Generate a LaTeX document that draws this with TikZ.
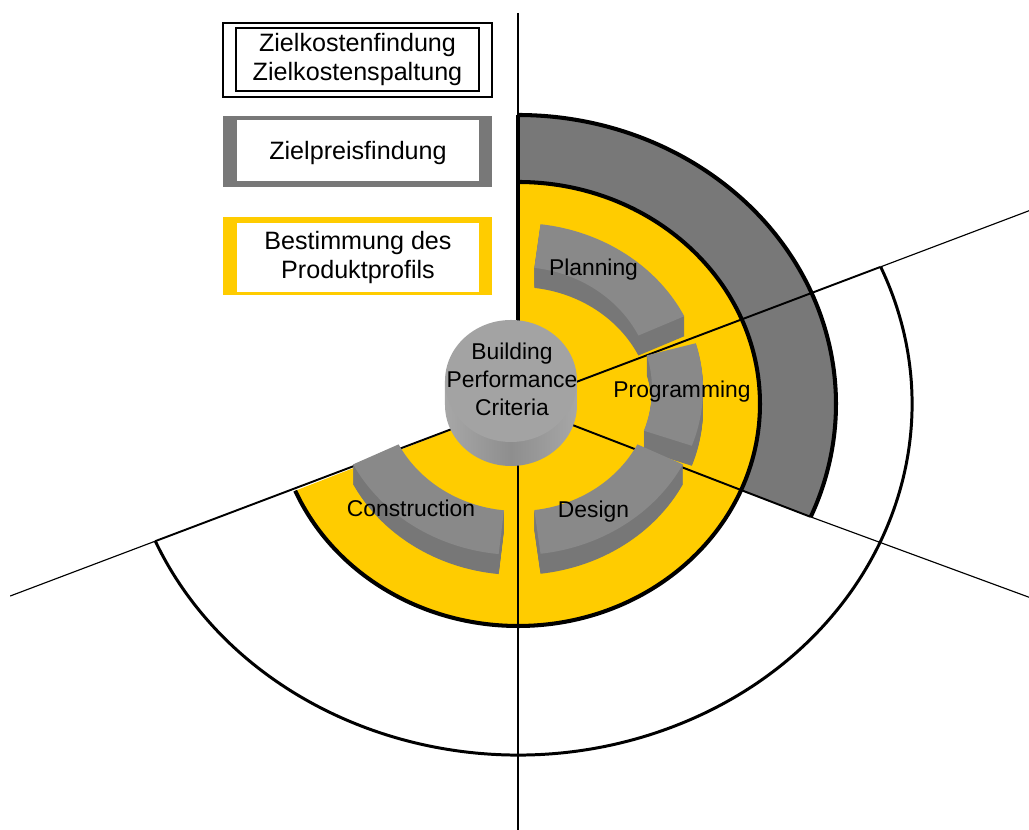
\documentclass[tikz,border=0pt]{standalone}
\usepackage{fontspec}
\setmainfont{Liberation Sans}
\usepackage{tikz}
\usetikzlibrary{calc}

\definecolor{ringgray}{HTML}{787878}
\definecolor{profilyellow}{HTML}{FFCC00}
\definecolor{barface}{HTML}{898989}
\definecolor{barside}{HTML}{777777}
\definecolor{cyltop}{HTML}{A3A3A3}
\definecolor{cyledge}{HTML}{C0C0C0}
\definecolor{cylmid}{HTML}{8E8E8E}

\pgfdeclarehorizontalshading{cylside}{100bp}{color(0bp)=(cyledge); color(50bp)=(cylmid); color(100bp)=(cyledge)}

\newcommand{\lblfont}{\fontsize{13}{15.9}\selectfont}
\newcommand{\legfont}{\fontsize{14.3}{16.6}\selectfont}

\newcommand{\segbar}[2]{%
  \foreach \h in {20,19,...,1}{%
    \fill[barside, yshift=-\h*0.02cm] (#1:185 and 166) arc[start angle=#1, end angle=#2, x radius=185, y radius=166]
      -- (#2:134 and 122) arc[start angle=#2, end angle=#1, x radius=134, y radius=122] -- cycle;
  }
  \fill[barface] (#1:185 and 166) arc[start angle=#1, end angle=#2, x radius=185, y radius=166]
    -- (#2:134 and 122) arc[start angle=#2, end angle=#1, x radius=134, y radius=122] -- cycle;
}

\begin{document}
\begin{tikzpicture}[x=0.02cm, y=0.02cm,
    thinline/.style={line width=0.65pt},
    midline/.style={line width=1.1pt},
    ringline/.style={line width=2.3pt},
    outerarc/.style={line width=1.7pt},
    lbl/.style={font=\lblfont, inner sep=0pt, anchor=base},
    legouter/.style={minimum width=5.38cm, inner sep=0pt, outer sep=0pt},
    leginner/.style={minimum width=4.84cm, inner sep=0pt, outer sep=0pt, fill=white, font=\legfont, align=center}]

    \useasboundingbox (-518,-426) rectangle (511,404);

    \coordinate (O) at (0,0);
    \coordinate (vTop) at (0,391);
    \coordinate (vBot) at (0,-426);
    \coordinate (gTop) at (90:318 and 289);
    \coordinate (yTop) at (90:242 and 222);
    \coordinate (gLR) at (-23:318 and 289);
    \coordinate (wUR) at (23:394 and 351);
    \coordinate (wLR) at (-23:394 and 351);
    \coordinate (wLL) at (203:394 and 351);
    \coordinate (eUR) at ($(O)!1.41!(wUR)$);
    \coordinate (eLR) at ($(O)!1.41!(wLR)$);
    \coordinate (eLL) at ($(O)!1.40!(wLL)$);

    \fill[ringgray] (gTop) arc[start angle=90, end angle=-23, x radius=318, y radius=289]
      -- (-23:242 and 222) arc[start angle=-23, end angle=90, x radius=242, y radius=222] -- cycle;

    \fill[profilyellow] (O) -- (-157:242 and 222) arc[start angle=-157, end angle=90, x radius=242, y radius=222] -- cycle;

    \draw[thinline] (vTop) -- (vBot);
    \draw[thinline] (wUR) -- (eUR);
    \draw[thinline] (gLR) -- (eLR);
    \draw[thinline] (wLL) -- (eLL);
    \draw[midline] (O) -- (wUR);
    \draw[midline] (O) -- (gLR);
    \draw[midline] (O) -- (wLL);

    \draw[ringline] (gTop) -- (O);
    \draw[ringline] (gTop) arc[start angle=90, end angle=-23, x radius=318, y radius=289];
    \draw[ringline] (yTop) arc[start angle=90, end angle=-157, x radius=242, y radius=222];
    \draw[outerarc] (wUR) arc[start angle=23, end angle=-157, x radius=394, y radius=351];

    \begin{scope}[shift={(0,15)}]
      \segbar{26}{83}
      \segbar{-20}{16}
      \segbar{-83}{-27}
      \segbar{207}{264}
    \end{scope}

    \shade[shading=cylside] (-73,23) -- (-73,-1) arc[start angle=180, end angle=360, x radius=66, y radius=61] -- (59,23) -- cycle;
    \fill[cyltop] (-7,23) ellipse [x radius=66, y radius=61];

    \node[lbl, anchor=center, align=center] (criteria) at (-6,25) {Building\\Performance\\Criteria};
    \node[lbl] (planning) at (75.5,128) {Planning};
    \node[lbl] (programming) at (164,6) {Programming};
    \node[lbl] (design) at (75.5,-114) {Design};
    \node[lbl] (construction) at (-107,-113) {Construction};

    \node[legouter, draw, line width=0.7pt, minimum height=1.48cm] (kostenrand) at (-160.5,344) {};
    \node[leginner, draw, line width=0.7pt, minimum width=4.86cm, minimum height=1.26cm] (kosten) at (-160.5,344.5) {Zielkostenfindung\\Zielkostenspaltung};

    \node[legouter, fill=ringgray, minimum height=1.42cm] (preisrand) at (-160.5,252.5) {};
    \node[leginner, text depth=0pt, minimum height=1.22cm] (preis) at (-160,253.5) {Zielpreisfindung};

    \node[legouter, fill=profilyellow, minimum height=1.56cm] (profilrand) at (-160.5,148) {};
    \node[leginner, minimum height=1.38cm] (profil) at (-160,146.5) {Bestimmung des\\Produktprofils};

  \end{tikzpicture}
\end{document}
